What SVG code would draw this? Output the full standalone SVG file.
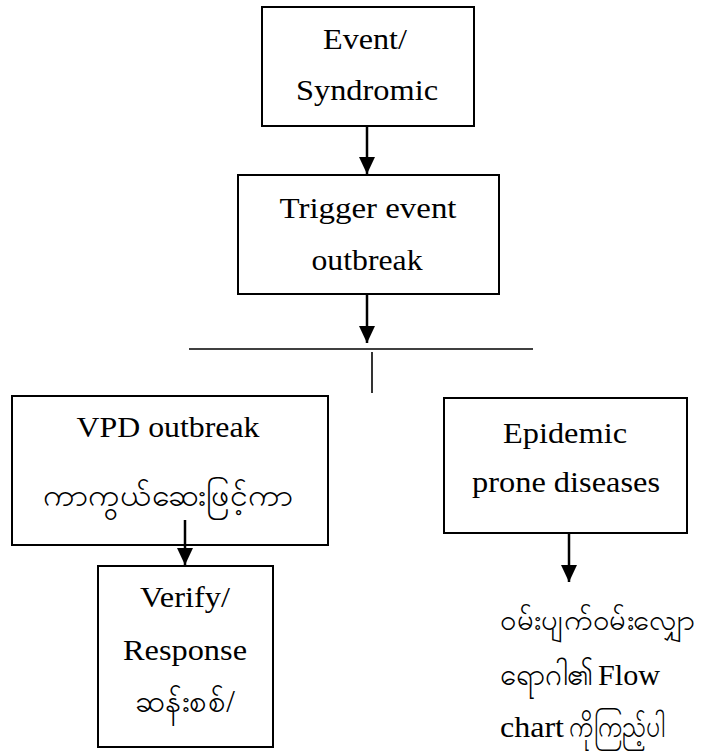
<svg xmlns="http://www.w3.org/2000/svg" width="708" height="751" viewBox="0 0 708 751">
  <style>
    .box { fill: #ffffff; stroke: #000000; stroke-width: 2; }
    text, tspan { font-family: "Liberation Serif", "Times New Roman", serif; }
    .lbl { font-size: 29px; fill: #000000; }
    .my { font-size: 32px; fill: #000000; }
    .wire { fill: none; stroke: #000000; stroke-width: 2.5; }
    .thin { fill: none; stroke: #000000; stroke-width: 1.6; }
  </style>
  <defs>
    <!-- solid triangular arrowhead, drawn pointing along +x -->
    <marker id="head" markerUnits="userSpaceOnUse" markerWidth="18" markerHeight="16" refX="17" refY="8" orient="auto" viewBox="0 0 18 16">
      <path d="M0,0 L17,8 L0,16 Z" fill="#000000"/>
    </marker>
  </defs>
  <rect width="708" height="751" fill="#ffffff"/>

  <g id="node-event">
    <rect class="box" x="262" y="7" width="212" height="119"/>
    <text class="lbl" x="365" y="49" text-anchor="middle" textLength="84" lengthAdjust="spacingAndGlyphs">Event/</text>
    <text class="lbl" x="367" y="100" text-anchor="middle" textLength="142" lengthAdjust="spacingAndGlyphs">Syndromic</text>
  </g>

  <g id="node-trigger">
    <rect class="box" x="238" y="175" width="261" height="119"/>
    <text class="lbl" x="368" y="218" text-anchor="middle" textLength="177" lengthAdjust="spacingAndGlyphs">Trigger event</text>
    <text class="lbl" x="367" y="270" text-anchor="middle" textLength="111" lengthAdjust="spacingAndGlyphs">outbreak</text>
  </g>

  <g id="node-vpd">
    <rect class="box" x="12" y="396" width="316" height="149"/>
    <text class="lbl" x="168" y="437" text-anchor="middle" textLength="183" lengthAdjust="spacingAndGlyphs">VPD outbreak</text>
    <text class="my" x="168" y="506" text-anchor="middle" textLength="250" lengthAdjust="spacingAndGlyphs">ကာကွယ်ဆေးဖြင့်ကာ</text>
  </g>

  <g id="node-verify">
    <rect class="box" x="98" y="566" width="175" height="181"/>
    <text class="lbl" x="185" y="607" text-anchor="middle" textLength="90" lengthAdjust="spacingAndGlyphs">Verify/</text>
    <text class="lbl" x="185" y="660" text-anchor="middle" textLength="124" lengthAdjust="spacingAndGlyphs">Response</text>
    <text class="my" x="185" y="712" text-anchor="middle" textLength="100" lengthAdjust="spacingAndGlyphs">ဆန်းစစ်/</text>
  </g>

  <g id="node-epidemic">
    <rect class="box" x="444" y="398" width="243" height="135"/>
    <text class="lbl" x="565" y="443" text-anchor="middle" textLength="124" lengthAdjust="spacingAndGlyphs">Epidemic</text>
    <text class="lbl" x="566" y="492" text-anchor="middle" textLength="188" lengthAdjust="spacingAndGlyphs">prone diseases</text>
  </g>

  <g id="note-flowchart">
    <text class="my" x="500" y="630" font-size="28" style="font-size:28px" textLength="196" lengthAdjust="spacingAndGlyphs">ဝမ်းပျက်ဝမ်းလျှော</text>
    <text x="500" y="685"><tspan class="my" textLength="94" lengthAdjust="spacingAndGlyphs">ရောဂါ၏</tspan><tspan class="lbl" dx="4" textLength="62" lengthAdjust="spacingAndGlyphs">Flow</tspan></text>
    <text x="500" y="737"><tspan class="lbl" textLength="64" lengthAdjust="spacingAndGlyphs">chart</tspan><tspan class="my" dx="5" textLength="96" lengthAdjust="spacingAndGlyphs">ကိုကြည့်ပါ</tspan></text>
  </g>

  <g id="connectors">
    <line class="wire" x1="367" y1="126" x2="367" y2="174" marker-end="url(#head)"/>
    <line class="wire" x1="367" y1="294" x2="367" y2="343" marker-end="url(#head)"/>
    <line class="thin" x1="189" y1="349" x2="533" y2="349"/>
    <line class="thin" x1="372" y1="352" x2="372" y2="393"/>
    <line class="wire" x1="185" y1="520" x2="185" y2="565" marker-end="url(#head)"/>
    <line class="wire" x1="569" y1="533" x2="569" y2="582" marker-end="url(#head)"/>
  </g>
</svg>
